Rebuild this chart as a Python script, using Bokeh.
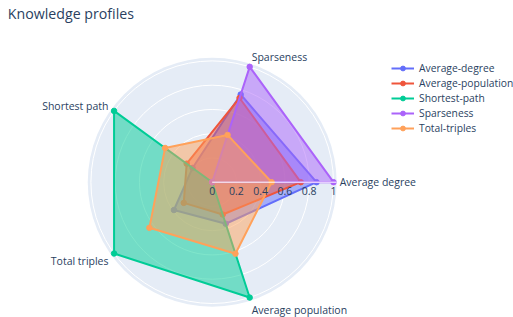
import numpy as np
from bokeh.plotting import figure
from bokeh.models import Range1d, Legend, LegendItem, Label
from bokeh.core.properties import value
from bokeh.embed import file_html
from bokeh.resources import INLINE

# ---- data ----
categories = ["Average degree", "Sparseness", "Shortest path", "Total triples", "Average population"]
series_names = ["Average-degree", "Average-population", "Shortest-path", "Sparseness", "Total-triples"]
average_degree = [0.86, 0.76, 0.20, 0.39, 0.36]
average_population = [0.73, 0.73, 0.26, 0.29, 0.28]
shortest_path = [0.0, 0.0, 1.0, 1.0, 1.0]
sparseness = [1.0, 1.0, 0.0, 0.0, 0.0]
total_triples = [0.49, 0.41, 0.48, 0.64, 0.62]
radial_ticks = [0.0, 0.2, 0.4, 0.6, 0.8, 1.0]
radial_tick_labels = ["0", "0.2", "0.4", "0.6", "0.8", "1"]
title_text = "Knowledge profiles"

series_values = [average_degree, average_population, shortest_path, sparseness, total_triples]
colors = ["#636efa", "#EF553B", "#00cc96", "#ab63fa", "#FFA15A"]

# ---- layout ----
W, H = 513, 317
S = 121.3          # px per radial unit
CX, CY = 211.7, 181.7  # polar centre in canvas px
RMAX = 1.026
FONT = value("Open Sans")
TXT = "#2a3f5f"

p = figure(width=W, height=H,
           x_range=Range1d(-CX / S, (W - CX) / S),
           y_range=Range1d(-(H - CY) / S, CY / S),
           x_axis_type=None, y_axis_type=None,
           output_backend="svg", toolbar_location=None,
           min_border=0, outline_line_color=None,
           background_fill_color="white", border_fill_color="white")
p.title.visible = False

theta = np.deg2rad(np.arange(len(categories)) * 360.0 / len(categories))

# polar background and circular grid
p.circle(x=[0], y=[0], radius=RMAX, fill_color="#E5ECF6", line_color=None)
p.circle(x=[0] * 5, y=[0] * 5, radius=radial_ticks[1:], fill_color=None,
         line_color="white", line_width=1)

items = []
for name, vals, c in zip(series_names, series_values, colors):
    r = np.array(vals)
    xs = r * np.cos(theta)
    ys = r * np.sin(theta)
    xc = np.append(xs, xs[0])
    yc = np.append(ys, ys[0])
    p.patch(x=xs, y=ys, fill_color=c, fill_alpha=0.5, line_color=None)
    ln = p.line(x=xc, y=yc, line_color=c, line_width=2, line_join="round")
    sc = p.scatter(x=xs, y=ys, size=5.5, fill_color=c, line_color=c)
    band = p.line(x=[], y=[], line_color=c, line_alpha=0.5, line_width=5)
    items.append(LegendItem(label=name, renderers=[band, ln, sc]))

# radial axis line (drawn above traces)
p.segment(x0=[0], y0=[0], x1=[RMAX], y1=[0], line_color="white", line_width=1)

# radial tick labels
p.text(x=radial_ticks, y=[0] * len(radial_ticks), text=radial_tick_labels,
       y_offset=8.5, text_align="center", text_baseline="middle",
       text_font=FONT, text_font_size="10.5px", text_color=TXT)

# angular labels
label_dx = [3, 1, -3, -3, 1]
label_dy = [0, -6.6, -3.5, 6, 9]
label_align = ["left", "left", "right", "right", "left"]
ax = RMAX * np.cos(theta)
ay = RMAX * np.sin(theta)
for i, cat in enumerate(categories):
    p.text(x=[ax[i]], y=[ay[i]], text=[cat], x_offset=label_dx[i], y_offset=label_dy[i],
           text_align=label_align[i], text_baseline="middle",
           text_font=FONT, text_font_size="10.5px", text_color=TXT)

# title
p.add_layout(Label(x=7.3, y=H - 13.3, x_units="screen", y_units="screen", text=title_text,
                   text_font="Open Sans", text_font_size="14.2px", text_color=TXT,
                   text_baseline="middle", text_align="left"))

legend = Legend(items=items, location=(391, 182), orientation="vertical",
                glyph_width=23, glyph_height=12, label_height=12, spacing=1,
                padding=0, margin=0, border_line_color=None, background_fill_alpha=0,
                label_standoff=5, label_text_font="Open Sans", label_text_font_size="10.3px",
                label_text_color=TXT)
p.add_layout(legend)

open("out.html", "w").write(file_html(p, INLINE))
